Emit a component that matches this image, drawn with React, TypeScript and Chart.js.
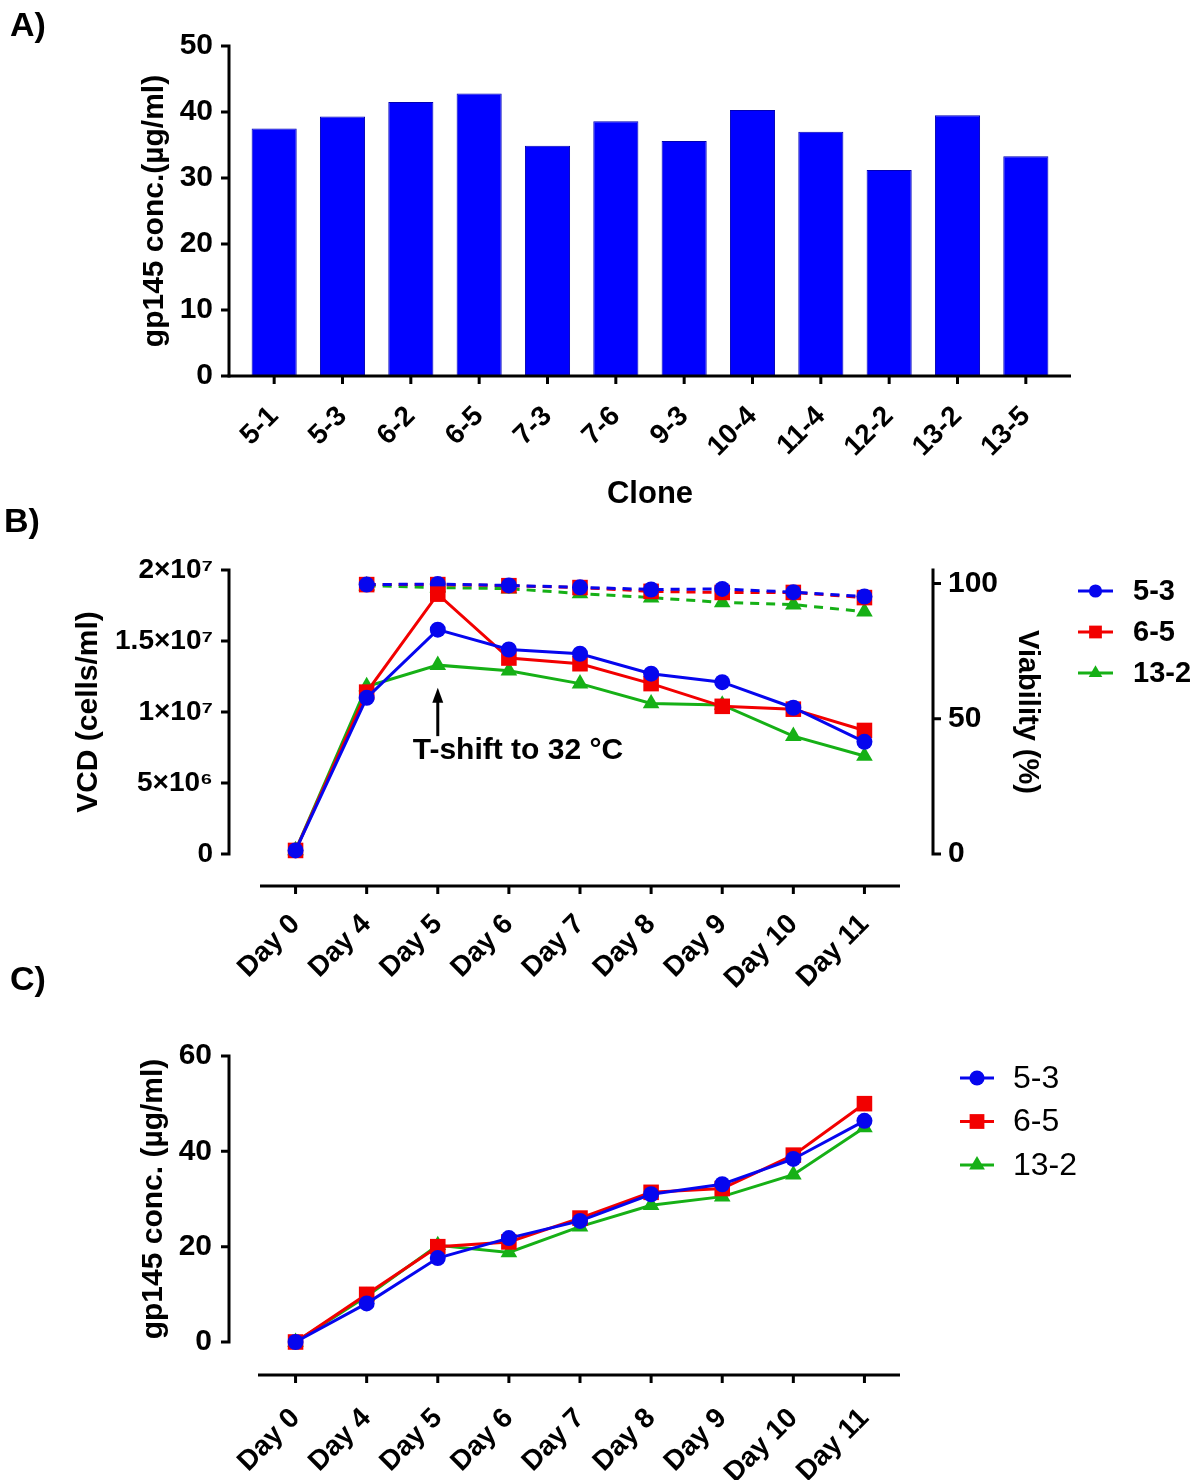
import React, { useEffect, useRef } from 'react';
import { Chart, registerables } from 'chart.js';

Chart.register(...registerables);

const FONT = '"Liberation Sans", Arial, Helvetica, sans-serif';

// ---------- Panel A data ----------
const clones = ['5-1', '5-3', '6-2', '6-5', '7-3', '7-6', '9-3', '10-4', '11-4', '12-2', '13-2', '13-5'];
const cloneTiter = [37.5, 39.3, 41.5, 42.8, 34.9, 38.6, 35.6, 40.3, 37.0, 31.2, 39.5, 33.3];
const cloneTiterTicks = [0, 10, 20, 30, 40, 50];

// ---------- Panel B / C data ----------
const days = ['Day 0', 'Day 4', 'Day 5', 'Day 6', 'Day 7', 'Day 8', 'Day 9', 'Day 10', 'Day 11'];
const seriesNames = ['5-3', '6-5', '13-2'];

const vcd53 = [0.25e6, 11.0e6, 15.8e6, 14.4e6, 14.1e6, 12.7e6, 12.1e6, 10.3e6, 7.9e6];
const vcd65 = [0.25e6, 11.4e6, 18.3e6, 13.8e6, 13.4e6, 12.0e6, 10.4e6, 10.2e6, 8.7e6];
const vcd132 = [0.25e6, 11.8e6, 13.3e6, 12.9e6, 12.0e6, 10.6e6, 10.5e6, 8.3e6, 6.9e6];

const via53 = [null, 99.6, 99.8, 99.3, 98.6, 97.8, 98.0, 96.8, 95.2];
const via65 = [null, 99.6, 99.6, 99.2, 98.5, 97.1, 96.7, 96.7, 94.8];
const via132 = [null, 99.2, 98.5, 98.1, 96.3, 94.8, 93.0, 92.2, 89.6];

const vcdTickValues = [0, 5e6, 1e7, 1.5e7, 2e7];
const vcdTickLabels = ['0', '5×10⁶', '1×10⁷', '1.5×10⁷', '2×10⁷'];
const viaTickValues = [0, 50, 100];

const titer53 = [0, 8.1, 17.6, 21.8, 25.4, 31.0, 33.1, 38.4, 46.4];
const titer65 = [0, 10.0, 20.0, 21.0, 26.0, 31.4, 32.2, 39.2, 50.0];
const titer132 = [0, 9.6, 20.3, 18.8, 24.2, 28.7, 30.5, 35.1, 45.0];
const titerTicks = [0, 20, 40, 60];

// annotation
const tShiftDayIndex = 2;
const tShiftLabel = 'T-shift to 32 °C';
const tShiftArrowTip = 11.7e6;
const tShiftArrowTail = 8.3e6;
const tShiftTextAt = 7.25e6;

// ---------- styles ----------
const seriesColors = ['#0606ee', '#f20000', '#16b016'];
const seriesPoints = ['circle', 'rect', 'triangle'];
const pointRadii = [8, 11, 9.6];

function drawMarker(ctx: CanvasRenderingContext2D, style: string, x: number, y: number, r: number, color: string) {
  ctx.fillStyle = color;
  ctx.beginPath();
  if (style === 'circle') {
    ctx.arc(x, y, r, 0, Math.PI * 2);
  } else if (style === 'rect') {
    const s = r * Math.SQRT1_2;
    ctx.rect(x - s, y - s, 2 * s, 2 * s);
  } else {
    let rad = 0;
    ctx.moveTo(x + Math.sin(rad) * r, y - Math.cos(rad) * r);
    rad += (2 * Math.PI) / 3;
    ctx.lineTo(x + Math.sin(rad) * r, y - Math.cos(rad) * r);
    rad += (2 * Math.PI) / 3;
    ctx.lineTo(x + Math.sin(rad) * r, y - Math.cos(rad) * r);
    ctx.closePath();
  }
  ctx.fill();
}

// Offset axes (GraphPad style) drawn from the chart's own scales
const axesPlugin = {
  id: 'offsetAxes',
  afterDraw(chart: any, _args: any, opts: any) {
    const specs = (opts && opts.axes) || [];
    const { ctx, chartArea: ca } = chart;
    ctx.save();
    ctx.strokeStyle = '#000';
    ctx.lineWidth = 3;
    ctx.lineCap = 'butt';
    for (let k = 0; k < specs.length; k++) {
      const s = specs[k];
      const scale = chart.scales[s.id];
      if (!scale) continue;
      ctx.beginPath();
      if (scale.isHorizontal()) {
        const y = ca.bottom + s.gap;
        ctx.moveTo(ca.left - (s.extendStart || 0), y);
        ctx.lineTo(ca.right + (s.extendEnd || 0), y);
        for (let i = 0; i < scale.ticks.length; i++) {
          const x = scale.getPixelForTick(i);
          ctx.moveTo(x, y);
          ctx.lineTo(x, y + s.tick);
        }
      } else {
        const isLeft = scale.position === 'left';
        const x = isLeft ? ca.left - s.gap : ca.right + s.gap;
        ctx.moveTo(x, ca.top - 1.5);
        ctx.lineTo(x, ca.bottom + 1.5);
        for (let i = 0; i < scale.ticks.length; i++) {
          const y = scale.getPixelForValue(scale.ticks[i].value);
          ctx.moveTo(x, y);
          ctx.lineTo(isLeft ? x - s.tick : x + s.tick, y);
        }
      }
      ctx.stroke();
    }
    ctx.restore();
  },
};

const legendPlugin = {
  id: 'lineLegend',
  afterDraw(chart: any, _args: any, opts: any) {
    if (!opts || !opts.show) return;
    const ctx = chart.ctx as CanvasRenderingContext2D;
    ctx.save();
    ctx.font = `${opts.weight} ${opts.size}px ${FONT}`;
    ctx.textAlign = 'left';
    ctx.textBaseline = 'middle';
    for (let i = 0; i < seriesNames.length; i++) {
      const ds = chart.data.datasets[i];
      const y = opts.y0 + i * opts.dy;
      const color = ds.borderColor as string;
      ctx.strokeStyle = color;
      ctx.lineWidth = 3;
      ctx.beginPath();
      ctx.moveTo(opts.x1, y);
      ctx.lineTo(opts.x2, y);
      ctx.stroke();
      drawMarker(ctx, ds.pointStyle, (opts.x1 + opts.x2) / 2, y, ds.pointRadius * opts.markerScale, color);
      ctx.fillStyle = '#000';
      ctx.fillText(ds.label, opts.textX, y + 1);
    }
    ctx.restore();
  },
};

const annotationPlugin = {
  id: 'tShift',
  afterDraw(chart: any, _args: any, opts: any) {
    if (!opts || !opts.show) return;
    const ctx = chart.ctx as CanvasRenderingContext2D;
    const xs = chart.scales.x;
    const ys = chart.scales.y;
    const x = xs.getPixelForValue(tShiftDayIndex);
    const tip = ys.getPixelForValue(tShiftArrowTip);
    const tail = ys.getPixelForValue(tShiftArrowTail);
    ctx.save();
    ctx.strokeStyle = '#000';
    ctx.fillStyle = '#000';
    ctx.lineWidth = 3;
    ctx.beginPath();
    ctx.moveTo(x, tail);
    ctx.lineTo(x, tip + 10);
    ctx.stroke();
    ctx.beginPath();
    ctx.moveTo(x, tip);
    ctx.lineTo(x - 5.5, tip + 15);
    ctx.lineTo(x + 5.5, tip + 15);
    ctx.closePath();
    ctx.fill();
    ctx.font = `bold 30px ${FONT}`;
    ctx.textAlign = 'left';
    ctx.textBaseline = 'middle';
    ctx.fillText(tShiftLabel, x + opts.textDx, ys.getPixelForValue(tShiftTextAt));
    ctx.restore();
  },
};

function lineDataset(label: string, data: (number | null)[], i: number, axis: string, dashed: boolean) {
  return {
    label,
    data,
    yAxisID: axis,
    borderColor: seriesColors[i],
    backgroundColor: seriesColors[i],
    pointBackgroundColor: seriesColors[i],
    pointBorderColor: seriesColors[i],
    pointStyle: seriesPoints[i],
    pointRadius: pointRadii[i],
    pointBorderWidth: 0,
    borderWidth: 3,
    borderDash: dashed ? [9, 7] : [],
    tension: 0,
    clip: false,
    spanGaps: false,
  };
}

const tickFont = (size: number, weight: string = 'bold') => ({ family: FONT, size, weight });
const noGrid = { display: false, drawTicks: false };
// vertical axes: label distance is given through an invisible tick length
const vGrid = (dist: number) => ({ display: false, drawTicks: true, tickLength: dist });

function configA(): any {
  return {
    type: 'bar',
    data: {
      labels: clones,
      datasets: [
        {
          label: 'gp145',
          data: cloneTiter,
          backgroundColor: '#0000ff',
          borderColor: '#0000b4',
          borderWidth: 1,
          barPercentage: 0.66,
          categoryPercentage: 1,
        },
      ],
    },
    options: {
      responsive: false,
      animation: false,
      events: [],
      layout: { padding: { top: 46, right: 140, left: 0, bottom: 0 } },
      plugins: {
        legend: { display: false },
        tooltip: { enabled: false },
        offsetAxes: {
          axes: [
            { id: 'x', gap: 0, extendStart: 12.5, extendEnd: 11, tick: 8 },
            { id: 'y', gap: 11, tick: 8 },
          ],
        },
      },
      scales: {
        x: {
          grid: noGrid,
          border: { display: false },
          ticks: { color: '#000', font: tickFont(28), minRotation: 45, maxRotation: 45, autoSkip: false, padding: 24 },
          title: { display: true, text: 'Clone', color: '#000', font: tickFont(31), padding: { top: 0, bottom: 7 } },
          afterFit: (s: any) => {
            s.height = 144;
          },
        },
        y: {
          min: 0,
          max: 50,
          grid: vGrid(25),
          border: { display: false },
          afterBuildTicks: (s: any) => {
            s.ticks = cloneTiterTicks.map((v) => ({ value: v }));
          },
          ticks: { color: '#000', font: tickFont(30), padding: 2 },
          title: {
            display: true,
            text: 'gp145 conc.(µg/ml)',
            color: '#000',
            font: tickFont(30),
            padding: { top: 137, bottom: 0 },
          },
          afterFit: (s: any) => {
            s.width = 240;
          },
        },
      },
    },
    plugins: [axesPlugin],
  };
}

function configB(): any {
  return {
    type: 'line',
    data: {
      labels: days,
      datasets: [
        lineDataset(seriesNames[0], vcd53, 0, 'y', false),
        lineDataset(seriesNames[1], vcd65, 1, 'y', false),
        lineDataset(seriesNames[2], vcd132, 2, 'y', false),
        lineDataset(seriesNames[0], via53, 0, 'y1', true),
        lineDataset(seriesNames[1], via65, 1, 'y1', true),
        lineDataset(seriesNames[2], via132, 2, 'y1', true),
      ],
    },
    options: {
      responsive: false,
      animation: false,
      events: [],
      layout: { padding: { top: 50, right: 0, left: 0, bottom: 0 } },
      plugins: {
        legend: { display: false },
        tooltip: { enabled: false },
        offsetAxes: {
          axes: [
            { id: 'x', gap: 32, extendStart: 0, extendEnd: 0, tick: 8 },
            { id: 'y', gap: 31, tick: 8 },
            { id: 'y1', gap: 33, tick: 8 },
          ],
        },
        lineLegend: { show: true, x1: 1078, x2: 1113, textX: 1133, y0: 71, dy: 41, size: 29, weight: 'bold', markerScale: 0.82 },
        tShift: { show: true, textDx: -25 },
      },
      scales: {
        x: {
          offset: true,
          grid: noGrid,
          border: { display: false },
          ticks: { color: '#000', font: tickFont(28), minRotation: 45, maxRotation: 45, autoSkip: false, padding: 54 },
          afterFit: (s: any) => {
            s.height = 146;
          },
        },
        y: {
          position: 'left',
          min: 0,
          max: 2e7,
          grid: vGrid(45),
          border: { display: false },
          afterBuildTicks: (s: any) => {
            s.ticks = vcdTickValues.map((v) => ({ value: v }));
          },
          ticks: {
            color: '#000',
            font: tickFont(28),
            padding: 2,
            callback: (v: any) => {
              const idx = vcdTickValues.indexOf(Number(v));
              return idx >= 0 ? vcdTickLabels[idx] : '';
            },
          },
          title: { display: true, text: 'VCD (cells/ml)', color: '#000', font: tickFont(30), padding: { top: 71, bottom: 0 } },
          afterFit: (s: any) => {
            s.width = 260;
          },
        },
        y1: {
          position: 'right',
          min: 0,
          max: 105,
          grid: vGrid(46),
          border: { display: false },
          afterBuildTicks: (s: any) => {
            s.ticks = viaTickValues.map((v) => ({ value: v }));
          },
          ticks: { color: '#000', font: tickFont(30), padding: 2 },
          title: { display: true, text: 'Viability (%)', color: '#000', font: tickFont(29), padding: { top: 156, bottom: 0 } },
          afterFit: (s: any) => {
            s.width = 300;
          },
        },
      },
    },
    plugins: [axesPlugin, legendPlugin, annotationPlugin],
  };
}

function configC(): any {
  return {
    type: 'line',
    data: {
      labels: days,
      datasets: [
        lineDataset(seriesNames[0], titer53, 0, 'y', false),
        lineDataset(seriesNames[1], titer65, 1, 'y', false),
        lineDataset(seriesNames[2], titer132, 2, 'y', false),
      ],
    },
    options: {
      responsive: false,
      animation: false,
      events: [],
      layout: { padding: { top: 56, right: 300, left: 0, bottom: 0 } },
      plugins: {
        legend: { display: false },
        tooltip: { enabled: false },
        offsetAxes: {
          axes: [
            { id: 'x', gap: 33, extendStart: 2, extendEnd: 0, tick: 8 },
            { id: 'y', gap: 31, tick: 8 },
          ],
        },
        lineLegend: { show: true, x1: 960, x2: 994, textX: 1013, y0: 78, dy: 43.5, size: 32, weight: 'normal', markerScale: 0.95 },
      },
      scales: {
        x: {
          offset: true,
          grid: noGrid,
          border: { display: false },
          ticks: { color: '#000', font: tickFont(28), minRotation: 45, maxRotation: 45, autoSkip: false, padding: 60 },
          afterFit: (s: any) => {
            s.height = 138;
          },
        },
        y: {
          min: 0,
          max: 60,
          grid: vGrid(46),
          border: { display: false },
          afterBuildTicks: (s: any) => {
            s.ticks = titerTicks.map((v) => ({ value: v }));
          },
          ticks: { color: '#000', font: tickFont(30), padding: 2 },
          title: {
            display: true,
            text: 'gp145 conc. (µg/ml)',
            color: '#000',
            font: tickFont(30),
            padding: { top: 136, bottom: 0 },
          },
          afterFit: (s: any) => {
            s.width = 260;
          },
        },
      },
    },
    plugins: [axesPlugin, legendPlugin],
  };
}

const panelLabel = (left: number, centerY: number): React.CSSProperties => ({
  position: 'absolute',
  left,
  top: centerY - 0.49 * 34,
  fontFamily: FONT,
  fontWeight: 'bold',
  fontSize: 34,
  lineHeight: 1,
  color: '#000',
  whiteSpace: 'nowrap',
});

export default function App() {
  const refA = useRef<HTMLCanvasElement>(null);
  const refB = useRef<HTMLCanvasElement>(null);
  const refC = useRef<HTMLCanvasElement>(null);

  useEffect(() => {
    Chart.defaults.font.family = FONT;
    Chart.defaults.color = '#000';
    const charts: Chart[] = [];
    if (refA.current) charts.push(new Chart(refA.current, configA()));
    if (refB.current) charts.push(new Chart(refB.current, configB()));
    if (refC.current) charts.push(new Chart(refC.current, configC()));
    return () => {
      charts.forEach((c) => c.destroy());
    };
  }, []);

  return (
    <div style={{ position: 'absolute', left: 0, top: 0, width: 1200, height: 1480, background: '#fff', overflow: 'hidden' }}>
      <canvas ref={refA} width={1200} height={520} style={{ position: 'absolute', left: 0, top: 0 }} />
      <canvas ref={refB} width={1200} height={480} style={{ position: 'absolute', left: 0, top: 520 }} />
      <canvas ref={refC} width={1200} height={480} style={{ position: 'absolute', left: 0, top: 1000 }} />
      <div style={panelLabel(10, 24)}>A)</div>
      <div style={panelLabel(4, 520)}>B)</div>
      <div style={panelLabel(10, 978)}>C)</div>
    </div>
  );
}
